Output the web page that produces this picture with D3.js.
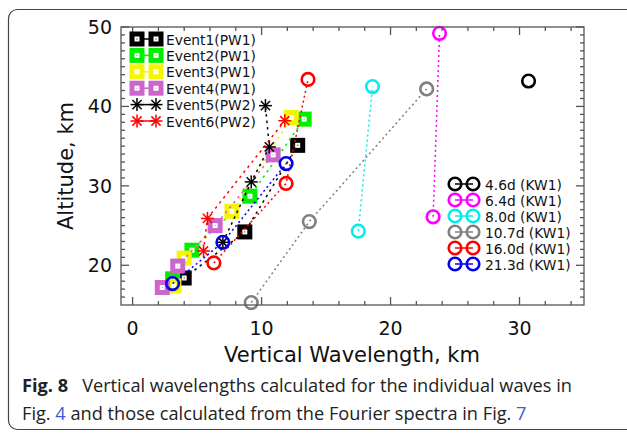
<!DOCTYPE html>
<html>
<head>
<meta charset="utf-8">
<script src="https://d3js.org/d3.v7.min.js"></script>
<style>
  body { margin: 0; background: #fff; }
  svg { display: block; }
</style>
</head>
<body>
<div id="chart"></div>
<script>
// event series (PW) - vertical wavelength (km) vs altitude (km)
const ev1X = [4.0, 8.7, 12.8];
const ev1Y = [18.4, 24.2, 35.1];
const ev2X = [3.1, 4.6, 9.1, 13.3];
const ev2Y = [18.3, 21.9, 28.7, 38.4];
const ev3X = [3.2, 4.0, 7.7, 12.3];
const ev3Y = [17.4, 20.9, 26.8, 38.6];
const ev4X = [2.3, 3.5, 6.4, 10.9];
const ev4Y = [17.2, 19.9, 25.0, 33.9];
const ev5X = [7.0, 9.2, 10.6, 10.3];
const ev5Y = [22.9, 30.5, 34.9, 40.1];
const ev6X = [5.5, 5.8, 11.8];
const ev6Y = [21.8, 25.9, 38.2];

// fourier spectra series (KW1)
const kw46X = [30.7];
const kw46Y = [43.2];
const kw64X = [23.3, 23.8];
const kw64Y = [26.1, 49.2];
const kw80X = [17.5, 18.6];
const kw80Y = [24.3, 42.5];
const kw107X = [9.2, 13.7, 22.8];
const kw107Y = [15.3, 25.5, 42.2];
const kw160X = [6.3, 11.9, 13.6];
const kw160Y = [20.3, 30.3, 43.4];
const kw213X = [3.1, 7.0, 11.9];
const kw213Y = [17.7, 22.9, 32.8];

const eventNames = ["Event1(PW1)", "Event2(PW1)", "Event3(PW1)", "Event4(PW1)", "Event5(PW2)", "Event6(PW2)"];
const kwNames = ["4.6d (KW1)", "6.4d (KW1)", "8.0d (KW1)", "10.7d (KW1)", "16.0d (KW1)", "21.3d (KW1)"];
const xTicks = [0, 10, 20, 30];
const yTicks = [20, 30, 40, 50];

const W = 627, H = 434;
const fontChart = "'DejaVu Sans', sans-serif";
const fontCap = "'Open Sans', sans-serif";

const svg = d3.select("#chart").append("svg")
  .attr("width", W).attr("height", H);

// card border
svg.append("rect")
  .attr("x", 8.5).attr("y", 9.5)
  .attr("width", 640).attr("height", 420)
  .attr("rx", 9)
  .attr("fill", "none").attr("stroke", "#444").attr("stroke-width", 1.2);

const pl = 121, pr = 584, pt = 27, pb = 305;
const x = d3.scaleLinear().domain([-0.9, 35]).range([pl, pr]);
const y = d3.scaleLinear().domain([15, 50]).range([pb, pt]);

const events = [
  {xs: ev1X, ys: ev1Y, color: "#000", mark: "square"},
  {xs: ev2X, ys: ev2Y, color: "#00ee00", mark: "square"},
  {xs: ev3X, ys: ev3Y, color: "#f5f500", mark: "square"},
  {xs: ev4X, ys: ev4Y, color: "#cc66cc", mark: "square"},
  {xs: ev5X, ys: ev5Y, color: "#000", mark: "star"},
  {xs: ev6X, ys: ev6Y, color: "#ff0000", mark: "star"}
];
const kws = [
  {xs: kw46X, ys: kw46Y, color: "#000", mark: "circle"},
  {xs: kw64X, ys: kw64Y, color: "#ff00ff", mark: "circle"},
  {xs: kw80X, ys: kw80Y, color: "#00eeee", mark: "circle"},
  {xs: kw107X, ys: kw107Y, color: "#808080", mark: "circle"},
  {xs: kw160X, ys: kw160Y, color: "#ff0000", mark: "circle"},
  {xs: kw213X, ys: kw213Y, color: "#0000ee", mark: "circle"}
];

function drawMark(g, mark, color, cx, cy) {
  if (mark === "square") {
    g.append("rect").attr("x", cx - 7.5).attr("y", cy - 7.5)
      .attr("width", 15).attr("height", 15).attr("fill", color);
    g.append("rect").attr("x", cx - 2.5).attr("y", cy - 2.5)
      .attr("width", 5).attr("height", 5).attr("fill", "#fff");
    g.append("rect").attr("x", cx - 0.5).attr("y", cy - 0.5)
      .attr("width", 1).attr("height", 1).attr("fill", color);
  } else if (mark === "star") {
    const r = 6.5;
    for (let a = 0; a < 4; a++) {
      const t = a * Math.PI / 4;
      g.append("line")
        .attr("x1", cx - r * Math.cos(t)).attr("y1", cy - r * Math.sin(t))
        .attr("x2", cx + r * Math.cos(t)).attr("y2", cy + r * Math.sin(t))
        .attr("stroke", color).attr("stroke-width", 1.5);
    }
  } else {
    g.append("circle").attr("cx", cx).attr("cy", cy).attr("r", 6.3)
      .attr("fill", "none").attr("stroke", color).attr("stroke-width", 2.6);
  }
}

const line = d3.line().x(d => x(d[0])).y(d => y(d[1]));

function drawSeries(s, dash) {
  const pts = s.xs.map((v, i) => [v, s.ys[i]]);
  const g = svg.append("g");
  g.append("path").attr("d", line(pts))
    .attr("fill", "none").attr("stroke", s.color)
    .attr("stroke-width", 1.5).attr("stroke-dasharray", dash);
  pts.forEach(p => drawMark(g, s.mark, s.color, x(p[0]), y(p[1])));
}

events.forEach(s => drawSeries(s, "2.5,4"));
kws.forEach(s => drawSeries(s, "2,3"));

// frame + ticks on all four sides
const ax = svg.append("g").attr("stroke", "#555").attr("stroke-width", 1.3);
ax.append("rect").attr("x", pl).attr("y", pt)
  .attr("width", pr - pl).attr("height", pb - pt).attr("fill", "none");

d3.range(0, 35, 2).forEach(v => {
  const len = (v % 10 === 0) ? 8 : 4;
  ax.append("line").attr("x1", x(v)).attr("x2", x(v)).attr("y1", pb).attr("y2", pb - len);
  ax.append("line").attr("x1", x(v)).attr("x2", x(v)).attr("y1", pt).attr("y2", pt + len);
});
d3.range(16, 51, 1).forEach(v => {
  const len = (v % 10 === 0) ? 8 : 4;
  ax.append("line").attr("y1", y(v)).attr("y2", y(v)).attr("x1", pl).attr("x2", pl + len);
  ax.append("line").attr("y1", y(v)).attr("y2", y(v)).attr("x1", pr).attr("x2", pr - len);
});

svg.selectAll(".xt").data(xTicks).enter().append("text")
  .attr("x", d => x(d)).attr("y", 335)
  .attr("text-anchor", "middle")
  .attr("font-family", fontChart).attr("font-size", 19).attr("fill", "#111")
  .text(d => d);
svg.selectAll(".yt").data(yTicks).enter().append("text")
  .attr("x", 112).attr("y", d => y(d) + 7)
  .attr("text-anchor", "end")
  .attr("font-family", fontChart).attr("font-size", 19).attr("fill", "#111")
  .text(d => d);

svg.append("text")
  .attr("transform", "translate(73,166) rotate(-90)")
  .attr("text-anchor", "middle")
  .attr("font-family", fontChart).attr("font-size", 21).attr("fill", "#111")
  .text("Altitude, km");
svg.append("text")
  .attr("x", 352).attr("y", 362)
  .attr("text-anchor", "middle")
  .attr("font-family", fontChart).attr("font-size", 21).attr("fill", "#111")
  .text("Vertical Wavelength, km");

// legends
function legend(series, names, x0, y0, dy, x1, tx) {
  series.forEach((s, i) => {
    const g = svg.append("g");
    const yy = y0 + i * dy;
    g.append("line").attr("x1", x0).attr("x2", x1).attr("y1", yy).attr("y2", yy)
      .attr("stroke", s.color).attr("stroke-width", 1.5);
    drawMark(g, s.mark, s.color, x0, yy);
    drawMark(g, s.mark, s.color, x1, yy);
    g.append("text").attr("x", tx).attr("y", yy + 5.5)
      .attr("font-family", fontChart).attr("font-size", 13.8).attr("fill", "#111")
      .text(names[i]);
  });
}
legend(events, eventNames, 137, 39, 16.4, 156, 166);
legend(kws, kwNames, 455, 184, 16, 473, 485);

// caption
const cap1 = svg.append("text").attr("x", 22).attr("y", 392)
  .attr("font-family", fontCap).attr("font-size", 18.2).attr("fill", "#222");
cap1.append("tspan").attr("font-weight", "bold").text("Fig. 8");
cap1.append("tspan").attr("dx", 14).text("Vertical wavelengths calculated for the individual waves in");

const cap2 = svg.append("text").attr("x", 22).attr("y", 420)
  .attr("font-family", fontCap).attr("font-size", 18.2).attr("fill", "#222");
cap2.append("tspan").text("Fig. ");
cap2.append("tspan").attr("fill", "#3b5bdb").text("4");
cap2.append("tspan").text(" and those calculated from the Fourier spectra in Fig. ");
cap2.append("tspan").attr("fill", "#3b5bdb").text("7");
</script>
</body>
</html>
